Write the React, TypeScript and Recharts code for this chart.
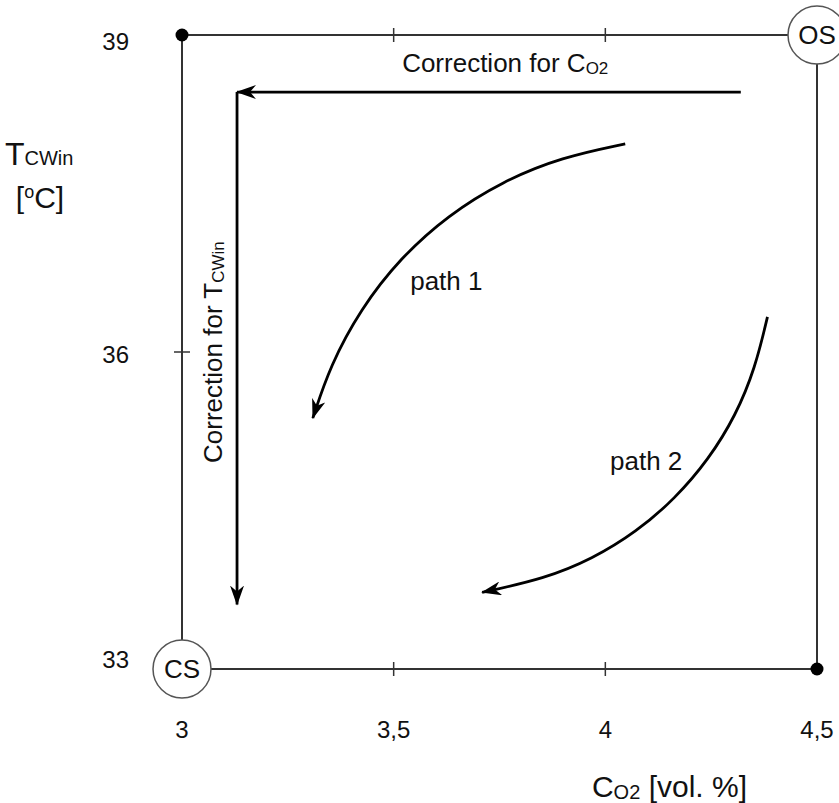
import { ComposedChart, Line, Scatter, XAxis, YAxis, ReferenceLine, ReferenceDot, Label } from "recharts";

// operating-point sketch: CO2 vs cooling water inlet temperature

const xTicks = [3, 3.5, 4, 4.5];
const xTickText = ["3", "3,5", "4", "4,5"];
const yTicks = [33, 36, 39];
const topTicks = [3.5, 4];

const path1X = [4.047, 3.898, 3.757, 3.628, 3.515, 3.422, 3.35, 3.309];
const path1Y = [37.97, 37.845, 37.616, 37.294, 36.887, 36.407, 35.87, 35.374];

const path2X = [4.383, 4.354, 4.308, 4.244, 4.165, 4.073, 3.969, 3.857, 3.709];
const path2Y = [36.332, 35.848, 35.398, 34.983, 34.613, 34.296, 34.041, 33.855, 33.725];

const corrCo2X = [4.32, 3.13];
const corrCo2Y = [38.46, 38.46];
const corrTempX = [3.13, 3.13];
const corrTempY = [38.46, 33.61];

const dotX = [3, 4.5];
const dotY = [39, 33];

const stateNames = ["OS", "CS"];
const stateX = [4.5, 3];
const stateY = [39, 33];

const toRows = (xs: number[], ys: number[]) => xs.map((x, i) => ({ x, y: ys[i] }));

const path1 = toRows(path1X, path1Y);
const path2 = toRows(path2X, path2Y);
const corrCo2 = toRows(corrCo2X, corrCo2Y);
const corrTemp = toRows(corrTempX, corrTempY);
const dots = toRows(dotX, dotY);
const states = stateNames.map((name, i) => ({ name, x: stateX[i], y: stateY[i] }));

const FONT = "'Liberation Sans', Arial, sans-serif";
const AXIS = "#333";
const yLabelShift: Record<number, number> = { 39: 15, 36: 11, 33: -1 };

function BottomTick({ x, y, payload }: any) {
  const v = payload.value;
  const inner = v > 3 && v < 4.5;
  return (
    <g>
      {inner && <line x1={x} x2={x} y1={y - 7} y2={y + 7} stroke={AXIS} strokeWidth={1.5} />}
      <text x={x} y={y + 69} textAnchor="middle" fontSize={24} fontFamily={FONT} fill="#111">
        {xTickText[xTicks.indexOf(v)]}
      </text>
    </g>
  );
}

function LeftTick({ x, y, payload }: any) {
  const v = payload.value;
  const inner = v > 33 && v < 39;
  return (
    <g>
      {inner && <line x1={x - 8} x2={x + 8} y1={y} y2={y} stroke={AXIS} strokeWidth={1.5} />}
      <text x={x - 53} y={y + yLabelShift[v]} textAnchor="end" fontSize={24} fontFamily={FONT} fill="#111">
        {v}
      </text>
    </g>
  );
}

function StateShape({ cx, cy, payload }: any) {
  return (
    <g>
      <circle cx={cx} cy={cy} r={29} fill="#fff" stroke="#555" strokeWidth={1.5} />
      <text x={cx} y={cy + 9} textAnchor="middle" fontSize={26} fontFamily={FONT} fill="#111">
        {payload.name}
      </text>
    </g>
  );
}

function DotShape({ cx, cy }: any) {
  return <circle cx={cx} cy={cy} r={6.5} fill="#000" />;
}

const note = (content: any) => (p: any) => (
  <text x={p.cx} y={p.cy} fontSize={26} fontFamily={FONT} fill="#111">
    {content}
  </text>
);

const tickMark = (p: any) => (
  <line x1={p.cx} x2={p.cx} y1={p.cy - 7} y2={p.cy + 7} stroke={AXIS} strokeWidth={1.5} />
);

export default function App() {
  return (
    <div style={{ position: "absolute", left: 0, top: 0, background: "#fff" }}>
      <ComposedChart width={839} height={803} margin={{ top: 35, right: 22, bottom: 0, left: 0 }}>
        <defs>
          <marker
            id="arrow"
            viewBox="0 0 20 14"
            refX={19}
            refY={7}
            markerWidth={20}
            markerHeight={14}
            markerUnits="userSpaceOnUse"
            orient="auto"
          >
            <path d="M0,0 L20,7 L0,14 L6,7 Z" fill="#000" />
          </marker>
        </defs>
        <XAxis
          dataKey="x"
          type="number"
          domain={[3, 4.5]}
          ticks={xTicks}
          height={134}
          tickSize={0}
          tickMargin={0}
          tickLine={false}
          axisLine={{ stroke: AXIS, strokeWidth: 2 }}
          tick={<BottomTick />}
          interval={0}
        >
          <Label
            content={({ viewBox }: any) => (
              <text
                x={viewBox.x + viewBox.width - 70}
                y={viewBox.y + 128}
                textAnchor="end"
                fontSize={30}
                fontFamily={FONT}
                fill="#111"
              >
                C<tspan fontSize={20} dy={2}>O2</tspan>
                <tspan dy={-2}> [vol. %]</tspan>
              </text>
            )}
          />
        </XAxis>
        <YAxis
          dataKey="y"
          type="number"
          domain={[33, 39]}
          ticks={yTicks}
          width={182}
          tickSize={0}
          tickMargin={0}
          tickLine={false}
          axisLine={{ stroke: AXIS, strokeWidth: 2 }}
          tick={<LeftTick />}
          interval={0}
        >
          <Label
            content={() => (
              <g fontFamily={FONT} fill="#111">
                <text x={5} y={165} fontSize={32}>
                  T<tspan fontSize={20}>CWin</tspan>
                </text>
                <text x={40} y={208} textAnchor="middle" fontSize={30}>
                  [<tspan fontSize={18} dy={-10}>o</tspan>
                  <tspan dy={10}>C]</tspan>
                </text>
              </g>
            )}
          />
        </YAxis>

        <ReferenceLine y={39} stroke={AXIS} strokeWidth={2} />
        <ReferenceLine x={4.5} stroke={AXIS} strokeWidth={2} />
        {topTicks.map((t) => (
          <ReferenceDot key={t} x={t} y={39} r={0} ifOverflow="visible" shape={tickMark} />
        ))}

        <Line data={corrCo2} dataKey="y" type="linear" stroke="#000" strokeWidth={2.8} dot={false} markerEnd="url(#arrow)" isAnimationActive={false} />
        <Line data={corrTemp} dataKey="y" type="linear" stroke="#000" strokeWidth={2.8} dot={false} markerEnd="url(#arrow)" isAnimationActive={false} />
        <Line data={path1} dataKey="y" type="basis" stroke="#000" strokeWidth={2.8} dot={false} markerEnd="url(#arrow)" isAnimationActive={false} />
        <Line data={path2} dataKey="y" type="basis" stroke="#000" strokeWidth={2.8} dot={false} markerEnd="url(#arrow)" isAnimationActive={false} />

        <ReferenceDot x={3.52} y={38.65} r={0} ifOverflow="visible" shape={note(<>Correction for C<tspan fontSize={17} dy={2}>O2</tspan></>)} />
        <ReferenceDot x={3.539} y={36.587} r={0} ifOverflow="visible" shape={note("path 1")} />
        <ReferenceDot x={4.011} y={34.88} r={0} ifOverflow="visible" shape={note("path 2")} />
        <ReferenceDot
          x={3.0945}
          y={34.95}
          r={0}
          ifOverflow="visible"
          shape={(p: any) => (
            <text x={p.cx} y={p.cy} transform={`rotate(-90 ${p.cx} ${p.cy})`} fontSize={26} fontFamily={FONT} fill="#111">
              Correction for T<tspan fontSize={17} dy={2}>CWin</tspan>
            </text>
          )}
        />

        <Scatter data={dots} shape={<DotShape />} isAnimationActive={false} />
        <Scatter data={states} shape={<StateShape />} isAnimationActive={false} />
      </ComposedChart>
    </div>
  );
}
